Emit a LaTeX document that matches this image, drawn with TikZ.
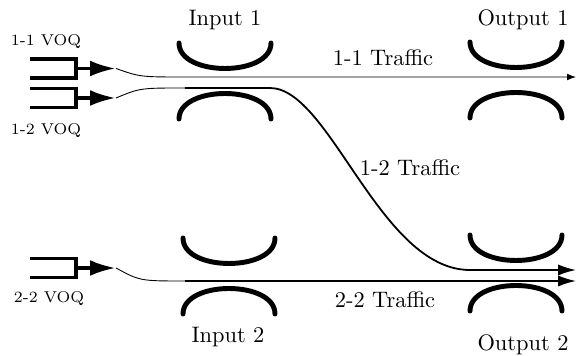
\documentclass[tikz,border=0pt]{standalone}
\usetikzlibrary{arrows.meta,calc}

\begin{document}
\begin{tikzpicture}[x=0.446pt,y=-0.446pt,
    coupler/.style={line width=2.2pt,line cap=round},
    queue/.style={line width=1.7pt},
    feed/.style={line width=1.7pt,-{Latex[length=11.5pt,width=7pt]}},
    lead/.style={thin},
    traffic/.style={line width=0.8pt,-{Latex[length=8pt,width=5pt]}},
    voqtext/.style={font=\scriptsize}]

  \useasboundingbox (0,0) rectangle (576,356);

  % coupler centres
  \coordinate (in1)  at (225,81);
  \coordinate (out1) at (516,80);
  \coordinate (in2)  at (229,276);
  \coordinate (out2) at (516,273);

  % two bent waveguides per coupler
  \foreach \c in {in1,out1,in2,out2}{
    \draw[coupler] ($(\c)+(-46,-38)$) .. controls ($(\c)+(-46,-4)$) and ($(\c)+(46,-4)$) .. ($(\c)+(46,-38)$);
    \draw[coupler] ($(\c)+(-46,38)$) .. controls ($(\c)+(-46,4)$) and ($(\c)+(46,4)$) .. ($(\c)+(46,38)$);
  }

  \node (in1lbl)  at (225,20)  {Input 1};
  \node (out1lbl) at (523,20)  {Output 1};
  \node (in2lbl)  at (228,337) {Input 2};
  \node (out2lbl) at (523,345) {Output 2};

  % virtual output queues
  \foreach \q/\y in {q11/68.5,q12/98,q22/268}{
    \draw[queue] (30,\y-9.5) -| (76,\y+9.5) -- (30,\y+9.5);
    \coordinate (\q) at (76,\y);
    \coordinate (\q tip) at (116,\y);
    \draw[feed] (\q) -- (\q tip);
  }

  \node[voqtext] (q11lbl) at (46,42)  {1-1 VOQ};
  \node[voqtext] (q12lbl) at (46,131) {1-2 VOQ};
  \node[voqtext] (q22lbl) at (49,299) {2-2 VOQ};

  % traffic paths
  \coordinate (join11) at (185,77);
  \coordinate (join12) at (185,88);
  \coordinate (join22) at (185,281);
  \coordinate (dst11)  at (576,77);
  \coordinate (dst12)  at (576,270);
  \coordinate (dst22)  at (576,281);

  \draw[lead,-{Latex[length=4pt,width=3pt]}] (q11tip) .. controls (140,77) .. (join11) -- (dst11);
  \draw[lead] (q12tip) .. controls (140,88) .. (join12);
  \draw[lead] (q22tip) .. controls (140,281) .. (join22);
  \draw[traffic] (join12) -- (270,88) .. controls (330,88) and (380,270) .. (470,270) -- (dst12);
  \draw[traffic] (join22) -- (dst22);

  \node (t11) at (383,58)  {1-1 Traffic};
  \node (t12) at (410,168) {1-2 Traffic};
  \node (t22) at (385,300) {2-2 Traffic};
\end{tikzpicture}
\end{document}
